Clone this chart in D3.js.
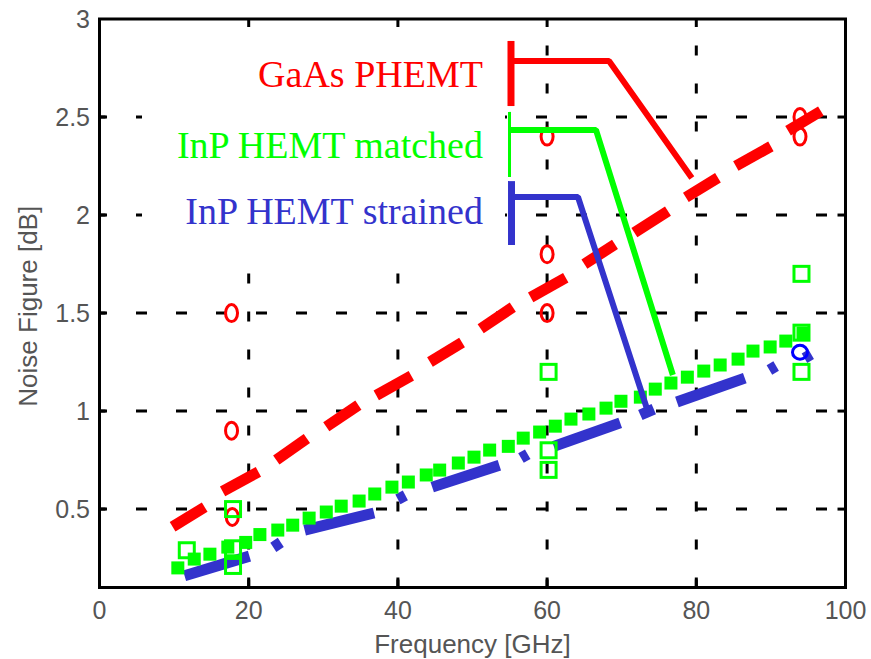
<!DOCTYPE html>
<html lang="en">
<head>
<meta charset="UTF-8">
<script src="https://cdn.jsdelivr.net/npm/d3@7"></script>
<style>
    body { margin: 0; background: #fff; }
    .tick-label { font-family: "Liberation Sans", Arial, sans-serif; font-size: 25px; fill: #555; }
    .axis-title { font-family: "Liberation Sans", Arial, sans-serif; font-size: 26px; fill: #555; }
    .legend-text { font-family: "Liberation Serif", "Times New Roman", serif; font-size: 38px; }
</style>
</head>
<body>
<div id="chart"></div>
<script>
    // x ticks / y ticks
    const xTicks = [0, 20, 40, 60, 80, 100];
    const yTicks = [0.5, 1, 1.5, 2, 2.5, 3];

    // GaAs PHEMT: thick dashes [f0, nf0, f1, nf1]
    const gaasDashes = [
        [9.8, 0.41, 14.1, 0.51], [16.5, 0.59, 21.3, 0.69], [23.7, 0.75, 27.8, 0.86],
        [30.4, 0.92, 34.7, 1.03], [37.1, 1.08, 41.8, 1.18], [44.3, 1.25, 48.6, 1.35],
        [51.1, 1.42, 55.4, 1.53], [57.8, 1.58, 62.5, 1.68], [65.0, 1.75, 69.1, 1.85],
        [71.7, 1.91, 76.2, 2.02], [78.6, 2.09, 82.9, 2.19], [85.3, 2.25, 90.0, 2.35],
        [92.3, 2.43, 96.7, 2.53]
    ];

    // InP HEMT matched: filled square markers [f, nf]
    const matchedPoints = [
        [10.5, 0.20], [12.7, 0.245], [14.8, 0.27], [17.2, 0.306], [19.6, 0.33], [21.5, 0.37],
        [23.9, 0.393], [25.9, 0.418], [28.1, 0.454], [30.4, 0.485], [32.4, 0.515], [34.8, 0.541],
        [36.9, 0.577], [39.2, 0.612], [41.4, 0.638], [43.8, 0.674], [45.6, 0.699], [48.1, 0.735],
        [50.2, 0.765], [52.3, 0.801], [54.8, 0.82], [56.8, 0.862], [59.0, 0.893], [61.1, 0.923],
        [63.2, 0.959], [65.6, 0.985], [67.9, 1.015], [69.9, 1.05], [72.5, 1.071], [74.5, 1.112],
        [76.6, 1.143], [78.8, 1.173], [81.0, 1.204], [83.2, 1.235], [85.6, 1.265], [87.6, 1.306],
        [89.9, 1.327], [92.0, 1.357], [94.3, 1.398]
    ];

    // InP HEMT strained: thick dashes [f0, nf0, f1, nf1]
    const strainedDashes = [
        [11.4, 0.16, 20.1, 0.26], [23.3, 0.305, 24.3, 0.33], [27.5, 0.393, 36.8, 0.48],
        [40.0, 0.55, 41.0, 0.57], [44.6, 0.612, 53.6, 0.724], [56.5, 0.76, 57.4, 0.78],
        [60.9, 0.82, 69.8, 0.94], [72.5, 0.98, 74.3, 1.01], [77.4, 1.046, 86.5, 1.168],
        [89.8, 1.21, 90.7, 1.23], [94.5, 1.27, 95.4, 1.29]
    ];

    // measured points (open markers)
    const gaasMeasured = [[17.7, 1.5], [17.7, 0.9], [17.8, 0.46], [60, 2.4], [60, 1.8], [60, 1.5], [93.9, 2.5], [93.9, 2.4]];
    const matchedMeasured = [[11.7, 0.29], [17.9, 0.5], [17.9, 0.3], [17.9, 0.21], [60.2, 1.2], [60.2, 0.8], [60.2, 0.7], [94.1, 1.7], [94.1, 1.4], [94.1, 1.2]];
    const strainedMeasured = [[93.9, 1.3]];

    // legend labels and pointer lines (data units)
    const legendLabels = ["GaAs PHEMT", "InP HEMT matched", "InP HEMT strained"];
    const legendColors = ["#ff0000", "#00ff00", "#3333cc"];
    const legendBaselines = [2.653, 2.291, 1.954];
    const legendPointers = [
        [[55.16, 2.888], [55.16, 2.556], null, [55.16, 2.786], [68.3, 2.786], [79.4, 2.189]],
        [[54.96, 2.526], [54.96, 2.194], null, [54.96, 2.434], [66.55, 2.434], [76.86, 1.184]],
        [[55.23, 2.173], [55.23, 1.847], null, [55.23, 2.092], [64.14, 2.092], [73.53, 0.995]]
    ];
    const legendBracketWidths = [7, 3, 7];

    const width = 871, height = 659;

    const x = d3.scaleLinear().domain([0, 100]).range([99.5, 845.5]);
    const y = d3.scaleLinear().domain([0.1, 3]).range([587.5, 19]);

    const svg = d3.select("#chart")
        .append("svg")
        .attr("width", width)
        .attr("height", height);

    // grid
    const grid = svg.append("g").attr("stroke", "#000").attr("stroke-width", 3);
    grid.selectAll(".vgrid")
        .data(xTicks.slice(1, -1))
        .join("line")
        .attr("x1", d => x(d)).attr("x2", d => x(d))
        .attr("y1", y(0.1)).attr("y2", y(3))
        .attr("stroke-dasharray", "10 28");
    grid.selectAll(".hgrid")
        .data(yTicks.slice(0, -1))
        .join("line")
        .attr("x1", x(0)).attr("x2", x(100))
        .attr("y1", d => y(d)).attr("y2", d => y(d))
        .attr("stroke-dasharray", "11 29")
        .attr("stroke-dashoffset", 3.5);

    // ticks
    const ticks = svg.append("g").attr("stroke", "#000").attr("stroke-width", 3);
    xTicks.slice(1, -1).forEach(t => {
        ticks.append("line").attr("x1", x(t)).attr("x2", x(t)).attr("y1", y(0.1)).attr("y2", y(0.1) - 8);
        ticks.append("line").attr("x1", x(t)).attr("x2", x(t)).attr("y1", y(3)).attr("y2", y(3) + 8);
    });
    yTicks.slice(0, -1).forEach(t => {
        ticks.append("line").attr("x1", x(0)).attr("x2", x(0) + 6).attr("y1", y(t)).attr("y2", y(t));
        ticks.append("line").attr("x1", x(100)).attr("x2", x(100) - 8).attr("y1", y(t)).attr("y2", y(t));
    });

    // white box behind legend text
    svg.append("rect")
        .attr("x", 142).attr("y", 27)
        .attr("width", 363).attr("height", 220)
        .attr("fill", "#fff");

    // strained dashes
    svg.append("g").selectAll("line")
        .data(strainedDashes)
        .join("line")
        .attr("x1", d => x(d[0])).attr("y1", d => y(d[1]))
        .attr("x2", d => x(d[2])).attr("y2", d => y(d[3]))
        .attr("stroke", "#3333cc")
        .attr("stroke-width", 11);

    // matched squares
    svg.append("g").selectAll("rect")
        .data(matchedPoints)
        .join("rect")
        .attr("x", d => x(d[0]) - 6.5).attr("y", d => y(d[1]) - 6.5)
        .attr("width", 13).attr("height", 13)
        .attr("fill", "#00ff00");

    // gaas dashes
    svg.append("g").selectAll("line")
        .data(gaasDashes)
        .join("line")
        .attr("x1", d => x(d[0])).attr("y1", d => y(d[1]))
        .attr("x2", d => x(d[2])).attr("y2", d => y(d[3]))
        .attr("stroke", "#ff0000")
        .attr("stroke-width", 11);

    // measured markers
    svg.append("g").selectAll("ellipse")
        .data(gaasMeasured)
        .join("ellipse")
        .attr("cx", d => x(d[0])).attr("cy", d => y(d[1]))
        .attr("rx", 6).attr("ry", 8.5)
        .attr("fill", "none").attr("stroke", "#ff0000").attr("stroke-width", 3);

    svg.append("g").selectAll("rect")
        .data(matchedMeasured)
        .join("rect")
        .attr("x", d => x(d[0]) - 7.5).attr("y", d => y(d[1]) - 7.5)
        .attr("width", 15).attr("height", 15)
        .attr("fill", "none").attr("stroke", "#00ff00").attr("stroke-width", 3);

    svg.append("g").selectAll("ellipse")
        .data(strainedMeasured)
        .join("ellipse")
        .attr("cx", d => x(d[0])).attr("cy", d => y(d[1]))
        .attr("rx", 7.5).attr("ry", 7)
        .attr("fill", "none").attr("stroke", "#0000ff").attr("stroke-width", 3);

    // legend text
    svg.append("g").selectAll("text")
        .data(legendLabels)
        .join("text")
        .attr("class", "legend-text")
        .attr("x", x(51.4))
        .attr("y", (d, i) => y(legendBaselines[i]))
        .attr("text-anchor", "end")
        .attr("fill", (d, i) => legendColors[i])
        .text(d => d);

    // legend pointer lines
    legendPointers.forEach((p, i) => {
        const g = svg.append("g").attr("stroke", legendColors[i]).attr("fill", "none");
        g.append("line")
            .attr("x1", x(p[0][0])).attr("y1", y(p[0][1]))
            .attr("x2", x(p[1][0])).attr("y2", y(p[1][1]))
            .attr("stroke-width", legendBracketWidths[i]);
        g.append("path")
            .attr("d", d3.line().x(d => x(d[0])).y(d => y(d[1]))(p.slice(3)))
            .attr("stroke-width", 6)
            .attr("stroke-linejoin", "bevel");
    });

    // frame
    svg.append("rect")
        .attr("x", x(0)).attr("y", y(3))
        .attr("width", x(100) - x(0)).attr("height", y(0.1) - y(3))
        .attr("fill", "none").attr("stroke", "#000").attr("stroke-width", 3);

    // tick labels
    svg.append("g").selectAll("text")
        .data(xTicks)
        .join("text")
        .attr("class", "tick-label")
        .attr("x", d => x(d))
        .attr("y", 619)
        .attr("text-anchor", "middle")
        .text(d => d);

    svg.append("g").selectAll("text")
        .data(yTicks)
        .join("text")
        .attr("class", "tick-label")
        .attr("x", 90)
        .attr("y", d => y(d) + 9)
        .attr("text-anchor", "end")
        .text(d => d);

    // axis titles
    svg.append("text")
        .attr("class", "axis-title")
        .attr("x", (x(0) + x(100)) / 2)
        .attr("y", 653)
        .attr("text-anchor", "middle")
        .text("Frequency [GHz]");

    svg.append("text")
        .attr("class", "axis-title")
        .attr("transform", `translate(37, ${(y(0.1) + y(3)) / 2 + 3}) rotate(-90)`)
        .attr("text-anchor", "middle")
        .text("Noise Figure [dB]");
</script>
</body>
</html>
